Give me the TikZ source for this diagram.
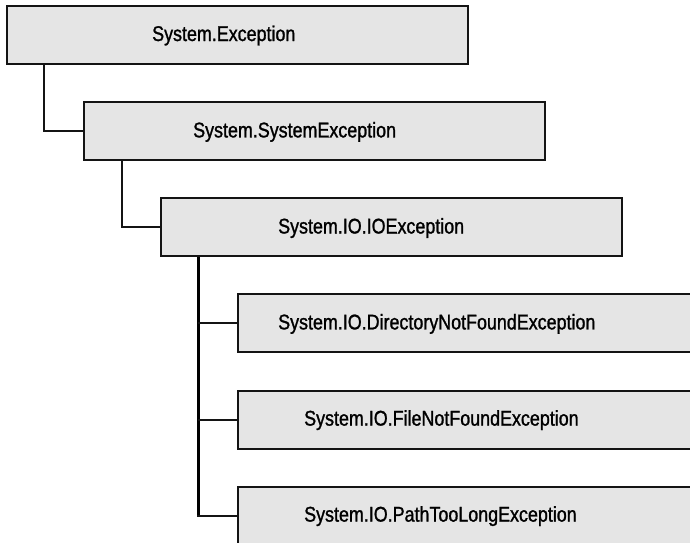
\documentclass[tikz,border=0pt]{standalone}
\usepackage{fontspec}
\setmainfont{Liberation Sans}[FakeStretch=0.84, FakeBold=1.2]
\usetikzlibrary{calc}

\definecolor{boxfill}{HTML}{E5E5E5}
\definecolor{edge}{HTML}{141414}

\tikzset{
  classbox/.style={draw=edge, line width=2pt, fill=boxfill, rectangle,
    minimum width=461pt, minimum height=58pt, inner sep=0pt, anchor=north west},
  classname/.style={anchor=base west, inner sep=0pt,
    font=\fontsize{21.3}{25}\selectfont},
  link/.style={draw=edge, line width=2pt},
  trunklink/.style={draw=black, line width=2.6pt}
}

\begin{document}
\begin{tikzpicture}[x=1pt, y=-1pt]
  \useasboundingbox (0,0) rectangle (690,542);
  \clip (0,0) rectangle (690,542);

  % inheritance chain, each level indented
  \node[classbox] (b1) at (6,5) {};
  \node[classbox] (b2) at (83,101.2) {};
  \node[classbox] (b3) at (159.8,197.4) {};
  \node[classbox] (b4) at (236.7,293.3) {};
  \node[classbox] (b5) at (236.7,389.5) {};
  \node[classbox] (b6) at (236.7,485.7) {};

  % class names
  \node[classname] (t1) at (152,41) {System.Exception};
  \node[classname] (t2) at (193,137.4) {System.SystemException};
  \node[classname] (t3) at (278,233.5) {System.IO.IOException};
  \node[classname] (t4) at (278,329.4) {System.IO.DirectoryNotFoundException};
  \node[classname] (t5) at (304,425.6) {System.IO.FileNotFoundException};
  \node[classname] (t6) at (304,521.6) {System.IO.PathTooLongException};

  % connectors
  \draw[link] ($(b1.south west)+(38.3,0)$) |- (b2.west);
  \draw[link] ($(b2.south west)+(38.5,0)$) |- (b3.west);
  \coordinate (trunk) at ($(b3.south west)+(38.6,0)$);
  \draw[trunklink] (trunk) -- (trunk |- b6.west);
  \draw[link] (trunk |- b4.west) -- (b4.west);
  \draw[link] (trunk |- b5.west) -- (b5.west);
  \draw[link] ([xshift=-1pt]trunk |- b6.west) -- (b6.west);
\end{tikzpicture}
\end{document}
